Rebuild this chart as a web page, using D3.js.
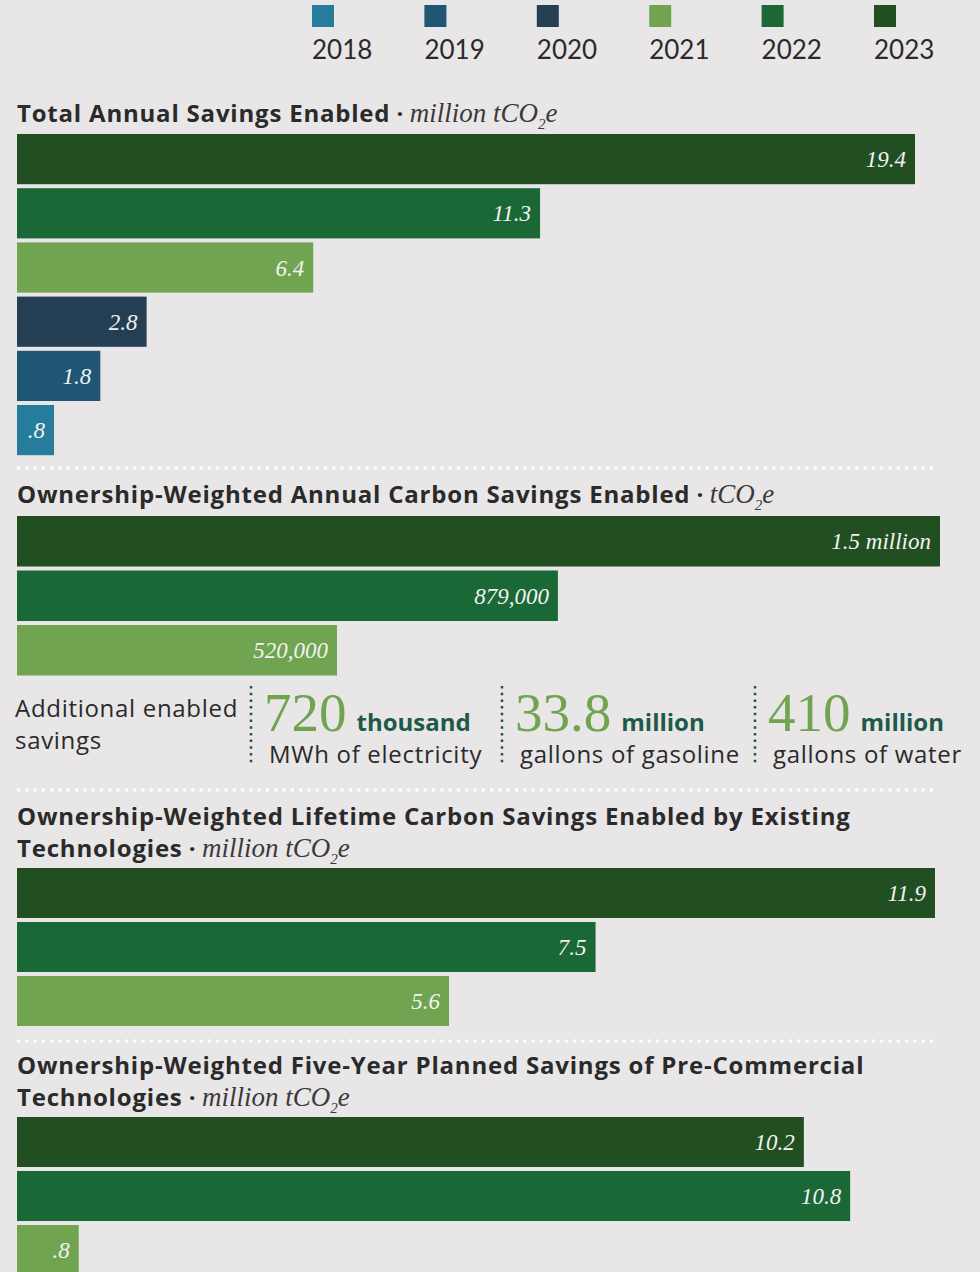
<!DOCTYPE html>
<html>
<head>
<meta charset="utf-8">
<script src="https://cdn.jsdelivr.net/npm/d3@7"></script>
<style>
  html, body { margin: 0; padding: 0; background: #e8e6e7; }
  svg { display: block; }
  .sans { font-family: "Open Sans", Lato, sans-serif; }
  .legend { font-family: Lato, "Open Sans", sans-serif; }
  .serif { font-family: "Liberation Serif", "DejaVu Serif", serif; }
</style>
</head>
<body>
<script>
// Legend years and their colours
const years = ["2018", "2019", "2020", "2021", "2022", "2023"];
const yearColors = ["#267d9b", "#1f5673", "#243f53", "#70a450", "#1b6837", "#214f22"];

// Panel 1: total annual savings enabled (million tCO2e)
const totalYears = ["2023", "2022", "2021", "2020", "2019", "2018"];
const totalValues = [19.4, 11.3, 6.4, 2.8, 1.8, 0.8];
const totalLabels = ["19.4", "11.3", "6.4", "2.8", "1.8", ".8"];

// Panel 2: ownership-weighted annual carbon savings (tCO2e)
const annualYears = ["2023", "2022", "2021"];
const annualValues = [1500000, 879000, 520000];
const annualLabels = ["1.5 million", "879,000", "520,000"];

// Additional enabled savings
const extraNumbers = ["720", "33.8", "410"];
const extraUnits = ["thousand", "million", "million"];
const extraCaptions = ["MWh of electricity", "gallons of gasoline", "gallons of water"];

// Panel 3: lifetime savings by existing technologies (million tCO2e)
const lifetimeYears = ["2023", "2022", "2021"];
const lifetimeValues = [11.9, 7.5, 5.6];
const lifetimeLabels = ["11.9", "7.5", "5.6"];

// Panel 4: five-year planned savings of pre-commercial technologies (million tCO2e)
const plannedYears = ["2023", "2022", "2021"];
const plannedValues = [10.2, 10.8, 0.8];
const plannedLabels = ["10.2", "10.8", ".8"];

const W = 980, H = 1272;
const color = d3.scaleOrdinal(years, yearColors);
const textDark = "#2a2a2a";

const svg = d3.select("body").append("svg")
  .attr("width", W).attr("height", H);

// ---- Legend ----
const legendX = d3.scalePoint(years, [312, 874]);
const lg = svg.append("g").selectAll("g").data(years).join("g")
  .attr("transform", d => `translate(${legendX(d)},0)`);
lg.append("rect").attr("x", 0).attr("y", 5).attr("width", 22).attr("height", 22)
  .attr("fill", d => color(d));
lg.append("text").attr("class", "legend").attr("x", 0).attr("y", 59)
  .attr("font-size", 26).attr("fill", textDark).text(d => d);

// ---- Helpers ----
function title(lines, unit, y) {
  const t = svg.append("text").attr("class", "sans").attr("x", 17).attr("y", y)
    .attr("font-size", 24).attr("font-weight", 700).attr("letter-spacing", 0.8)
    .attr("fill", textDark);
  lines.forEach((ln, i) => {
    t.append("tspan").attr("x", 17).attr("dy", i === 0 ? 0 : 32).text(ln);
  });
  const lastLen = t.selectAll("tspan").nodes().slice(-1)[0].getComputedTextLength();
  const uy = y + 32 * (lines.length - 1);
  const u = svg.append("text").attr("x", 17 + lastLen).attr("y", uy)
    .attr("fill", textDark);
  u.append("tspan").attr("class", "sans").attr("font-size", 24).attr("font-weight", 700)
    .text("\u00a0·\u00a0");
  u.append("tspan").attr("class", "serif").attr("font-style", "italic")
    .attr("font-size", 27).attr("fill", "#3a3a3a").text(unit);
  u.append("tspan").attr("class", "serif").attr("font-style", "italic")
    .attr("font-size", 15).attr("fill", "#3a3a3a").attr("dy", 7).text("2");
  u.append("tspan").attr("class", "serif").attr("font-style", "italic")
    .attr("font-size", 27).attr("fill", "#3a3a3a").attr("dy", -7).text("e");
}

function bars(cats, values, labels, x, top, step) {
  const gap = 4;
  const y = d3.scaleBand(cats.map((c, i) => i), [top, top + cats.length * step - gap])
    .paddingInner(gap / step).paddingOuter(0);
  const g = svg.append("g");
  const rows = g.selectAll("g").data(values).join("g");
  rows.append("rect")
    .attr("x", x(0)).attr("y", (d, i) => y(i))
    .attr("width", d => x(d) - x(0)).attr("height", y.bandwidth())
    .attr("fill", (d, i) => color(cats[i]));
  rows.append("text").attr("class", "serif")
    .attr("x", d => x(d) - 9).attr("y", (d, i) => y(i) + y.bandwidth() / 2 + 8)
    .attr("text-anchor", "end").attr("font-style", "italic").attr("font-size", 23)
    .attr("fill", "#f2f2f2").text((d, i) => labels[i]);
}

function separator(y) {
  svg.append("line").attr("x1", 17).attr("x2", 935).attr("y1", y).attr("y2", y)
    .attr("stroke", "#ffffff").attr("stroke-width", 3)
    .attr("stroke-dasharray", "3,5.3");
}

// ---- Panel 1 ----
title(["Total Annual Savings Enabled"], "million tCO", 122);
const x1 = d3.scaleLinear([0, 19.4], [17, 915]);
bars(totalYears, totalValues, totalLabels, x1, 134, 54.2);
separator(468);

// ---- Panel 2 ----
title(["Ownership-Weighted Annual Carbon Savings Enabled"], "tCO", 503);
const x2 = d3.scaleLinear([0, 1500000], [17, 940]);
bars(annualYears, annualValues, annualLabels, x2, 516, 54.5);

// ---- Additional enabled savings ----
const ad = svg.append("text").attr("class", "sans").attr("font-size", 24)
  .attr("letter-spacing", 0.7).attr("fill", textDark);
ad.append("tspan").attr("x", 15).attr("y", 717).text("Additional enabled");
ad.append("tspan").attr("x", 15).attr("y", 749).text("savings");

const colX = [251, 502, 755];
colX.forEach((cx, i) => {
  svg.append("line").attr("x1", cx).attr("x2", cx).attr("y1", 686).attr("y2", 766)
    .attr("stroke", "#1d5a3e").attr("stroke-width", 2.5).attr("stroke-dasharray", "2.5,4.2");
  const num = svg.append("text").attr("class", "serif").attr("x", cx + 13).attr("y", 731)
    .attr("font-size", 55).attr("fill", "#70a450").text(extraNumbers[i]);
  const nw = num.node().getComputedTextLength();
  svg.append("text").attr("class", "sans").attr("x", cx + 13 + nw + 10).attr("y", 731)
    .attr("font-size", 24).attr("font-weight", 700).attr("fill", "#1d5a4a").text(extraUnits[i]);
  svg.append("text").attr("class", "sans").attr("x", cx + 18).attr("y", 763)
    .attr("font-size", 24).attr("letter-spacing", 0.7).attr("fill", textDark).text(extraCaptions[i]);
});
separator(790);

// ---- Panel 3 ----
title(["Ownership-Weighted Lifetime Carbon Savings Enabled by Existing", "Technologies"], "million tCO", 825);
const x3 = d3.scaleLinear([0, 11.9], [17, 935]);
bars(lifetimeYears, lifetimeValues, lifetimeLabels, x3, 868, 54);
separator(1041);

// ---- Panel 4 ----
title(["Ownership-Weighted Five-Year Planned Savings of Pre-Commercial", "Technologies"], "million tCO", 1074);
bars(plannedYears, plannedValues, plannedLabels, x3, 1117, 54);
</script>
</body>
</html>
